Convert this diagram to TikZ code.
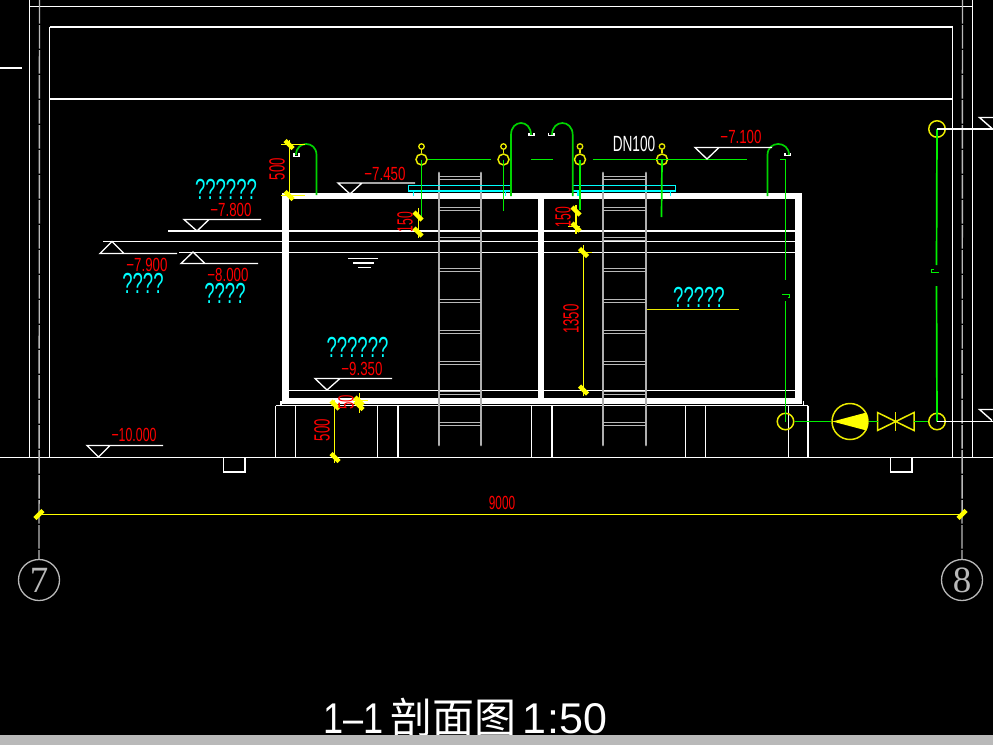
\documentclass[tikz,border=0pt]{standalone}
\usepackage{fontspec}
\setmainfont{Liberation Sans}
\newfontfamily\cjk{Noto Sans CJK SC}
\newfontfamily\axisfont{Liberation Serif}
\newcommand{\sqz}[2]{\scalebox{#1}[1]{#2}}
\definecolor{cadyel}{RGB}{255,255,0}
\definecolor{cadyd}{RGB}{235,235,0}
\definecolor{cadgrn}{RGB}{0,240,0}
\definecolor{cadgrh}{RGB}{0,210,0}
\definecolor{cadgry}{RGB}{185,185,185}
\definecolor{cadrail}{RGB}{175,175,175}
\definecolor{cadcyan}{RGB}{0,255,255}
\definecolor{cadred}{RGB}{255,0,0}
\tikzset{
 thin line/.style={draw=white,line width=1.4pt},
 wall/.style={fill=white,draw=none},
 pipe/.style={draw=cadgrn,line width=1.7pt},
 hook/.style={draw=cadgrh,line width=1.7pt},
 bracket/.style={draw=white,line width=1.2pt},
 axisline/.style={draw=cadgry,line width=1.4pt,dash pattern=on 23.5pt off 1.5pt},
 dimline/.style={draw=cadyel,line width=1.6pt},
 slash/.style={draw=cadyel,line width=4.5pt},
 bigc/.style={circle,draw=cadyd,line width=1.5pt,inner sep=0pt,minimum size=11pt},
 smallc/.style={circle,draw=cadyd,line width=1.3pt,inner sep=0pt,minimum size=5.5pt},
 endc/.style={circle,draw=cadyd,line width=1.5pt,inner sep=0pt,minimum size=16.5pt},
 rail/.style={draw=cadrail,line width=2.8pt,line cap=round},
 rung/.style={draw=cadgry,line width=1.3pt},
 plate/.style={draw=cadcyan,line width=1.5pt},
 lvl/.style={text=cadred,inner sep=0pt,font=\fontsize{19}{19}\selectfont},
 dimt/.style={text=cadred,inner sep=0pt,font=\fontsize{22}{22}\selectfont},
 cyant/.style={text=cadcyan,inner sep=0pt,font=\fontsize{29}{29}\selectfont},
 mark sym/.style={draw=white,line width=1.3pt},
 axisc/.style={circle,draw=cadgry,line width=1.3pt,inner sep=0pt,minimum size=41pt,text=cadgry,font=\axisfont\fontsize{37}{37}\selectfont},
}
\begin{document}
\begin{tikzpicture}[x=1pt,y=-1pt]
\useasboundingbox (0,0) rectangle (993,745);
\fill[black] (0,0) rectangle (993,745);

% building frame
\draw[thin line] (29.5,0) -- (29.5,457);
\draw[thin line] (49.5,27) -- (49.5,457);
\draw[thin line] (952.5,27) -- (952.5,457);
\draw[thin line] (972.5,0) -- (972.5,457);
\draw[thin line] (29.5,6.5) -- (972.5,6.5);
\draw[thin line] (49.5,27) -- (952.5,27);
\draw[thin line] (49.5,99) -- (952.5,99);
\draw[thin line] (0,68) -- (22,68);
\draw[thin line] (0,457.5) -- (993,457.5);
\draw[thin line] (223.5,457.5) -- (223.5,472) -- (245,472) -- (245,457.5);
\draw[thin line] (890.5,457.5) -- (890.5,472) -- (912,472) -- (912,457.5);
% axes
\node[axisc] (ax7) at (39,580) {7};
\node[axisc] (ax8) at (962,580) {8};
\coordinate (ax7t) at (39.5,0);
\coordinate (ax8t) at (962.5,0);
\draw[axisline] (ax7t) -- (ax7.north);
\draw[axisline] (ax8t) -- (ax8.north);

% water and floor lines
\draw[thin line] (168,231) -- (795,231);
\draw[thin line] (103,241.5) -- (795,241.5);
\draw[thin line] (179,252.5) -- (795,252.5);
\draw[thin line] (289,390.5) -- (795,390.5);
\draw[thin line] (348,258.5) -- (378,258.5);
\draw[thin line] (353,263) -- (374,263);
\draw[thin line] (358,267.5) -- (371,267.5);

% tank
\fill[wall] (282,193) rectangle (802,199);
\fill[wall] (282,193) rectangle (289,404);
\fill[wall] (795,193) rectangle (802,404);
\fill[wall] (538,193) rectangle (544,404);
\fill[wall] (282,398) rectangle (802,403.5);
% plinth
\draw[thin line] (281,405) -- (281,400.5);
\draw[thin line] (803.5,400.5) -- (803.5,405);
\draw[thin line] (275.5,405.5) -- (808,405.5);
\foreach \x in {275.5,295.5,377.5,398,531.5,552,685.5,705.5,788.5,808}
  \draw[thin line] (\x,405.5) -- (\x,457.5);

% ladders
\foreach \x/\y in {439/481,603/646}{
  \draw[rail] (\x,173) -- (\x,445);
  \draw[rail] (\y,173) -- (\y,445);
  \foreach \r in {178,209,239,270,301,332,363,393,424}{
    \draw[rung] (\x,\r-1.5) -- (\y,\r-1.5);
    \draw[rung] (\x,\r+1.5) -- (\y,\r+1.5);
  }
}

% cyan plates
\draw[plate] (408.5,185.5) rectangle (511.5,191);
\draw[plate] (413.5,191) -- (413.5,196);
\draw[plate] (505.5,191) -- (505.5,196);
\draw[plate] (572.5,185.5) rectangle (675.5,191);
\draw[plate] (578,191) -- (578,196);
\draw[plate] (670.5,191) -- (670.5,196);

% pipes with yellow fittings
\node[bigc] (p1) at (421.5,159.5) {};
\node[bigc] (p2) at (503.5,159.5) {};
\node[bigc] (p3) at (580,159.5) {};
\node[bigc] (p4) at (662,159.5) {};
\node[smallc] (s1) at (421.5,146.5) {};
\node[smallc] (s2) at (503.5,146.5) {};
\node[smallc] (s3) at (580,146.5) {};
\node[smallc] (s4) at (662,146.5) {};
\foreach \n in {1,2,3,4} \draw[draw=cadyd,line width=1.3pt] (p\n) -- (s\n);
\coordinate (e1) at (421.5,217); \coordinate (e2) at (503.5,211);
\coordinate (e3) at (580,210);  \coordinate (e4) at (661.5,217);
\foreach \n in {1,2,3,4} \draw[pipe] (p\n.center) -- (e\n);
\coordinate (h1) at (491,159.5); \draw[pipe] (p1) -- (h1);
\coordinate (h2a) at (531,159.5); \coordinate (h2b) at (553,159.5); \draw[pipe] (h2a) -- (h2b);
\coordinate (h3a) at (593,159.5); \coordinate (h3) at (747,159.5); \draw[pipe] (h3a) -- (h3);

% hooks
\draw[hook] (511,196) -- (511,135) .. controls (511,119) and (531,119) .. (531,135);
\draw[bracket] (529,133) -- (529,135.5) -- (534,135.5) -- (534,133);
\draw[hook] (572.7,196) -- (572.7,135) .. controls (572.7,119) and (552,119) .. (552,135);
\draw[bracket] (548.5,133) -- (548.5,135.5) -- (554,135.5) -- (554,133);
\draw[hook] (767.5,196) -- (767.5,155) .. controls (767.5,140.3) and (789,140.3) .. (789,155);
\draw[bracket] (785,153) -- (785,155.5) -- (790.5,155.5) -- (790.5,153);
\draw[hook] (316.5,195) -- (316.5,155) .. controls (316.5,140.3) and (296,140.3) .. (296,155);
\draw[bracket] (294,153) -- (294,156.5) -- (299,156.5) -- (299,153);

% right pump line
\node[endc] (q1) at (785.5,421.5) {};
\node[endc] (q2) at (937,421.5) {};
\node[endc] (q3) at (937,129) {};
\node[circle,draw=cadyd,line width=1.5pt,inner sep=0pt,minimum size=36pt] (pump) at (850,421.5) {};
\fill[cadyel] (832.5,421.5) -- (866.5,412.5) .. controls (868.5,418) and (868.5,425) .. (866.5,430.5) -- cycle;
\coordinate (v1) at (877.5,421.5); \coordinate (v2) at (914,421.5);
\draw[draw=cadyd,line width=1.5pt] (877.5,412.5) -- (914,430.5) -- (914,412.5) -- (877.5,430.5) -- cycle;
\draw[draw=cadyd,line width=1.5pt] (895.5,412) -- (895.5,431);
\draw[pipe] (q1) -- (pump);
\draw[pipe] (pump) -- (v1);
\draw[pipe] (v2) -- (q2);
\coordinate (r1) at (780,159.5); \coordinate (r2) at (785.5,159.5);
\coordinate (r3) at (785.5,280); \coordinate (r4) at (785.5,301);
\draw[pipe] (r1) -- (r2) -- (r3);
\draw[pipe] (r4) -- (q1.center);
\draw[pipe] (782,294.5) -- (789.5,294.5) -- (789.5,297.5) -- (787.5,297.5);
\coordinate (t1) at (936.5,265); \coordinate (t2) at (936.5,286);
\draw[pipe] (q3.center) -- (t1);
\draw[pipe] (t2) -- (q2.center);
\draw[pipe] (938.5,272.5) -- (931.5,272.5) -- (931.5,269.5) -- (933.5,269.5);
\draw[thin line] (q3.center) -- (993,129);
\draw[thin line] (q2.center) -- (993,421.5);
\draw[thin line] (993,117.5) -- (979.5,117.5) -- (992,128.5);
\draw[thin line] (993,409.5) -- (979.5,409.5) -- (992,420.5);

% level symbols
\draw[mark sym] (338,183) -- (350,194) -- (362,183) -- cycle (362,183) -- (415,183);
\draw[mark sym] (184,219.5) -- (197,231) -- (209,219.5) -- cycle (209,219.5) -- (261,219.5);
\draw[mark sym] (100,253.5) -- (112,241.5) -- (124,253.5) -- cycle (124,253.5) -- (177,253.5);
\draw[mark sym] (181,263.5) -- (193,252) -- (205,263.5) -- cycle (205,263.5) -- (258,263.5);
\draw[mark sym] (315,378.5) -- (327,390) -- (340,378.5) -- cycle (340,378.5) -- (392,378.5);
\draw[mark sym] (87,445.5) -- (98.5,457) -- (110,445.5) -- cycle (110,445.5) -- (163,445.5);
\draw[mark sym] (695,147.5) -- (707,159) -- (719,147.5) -- cycle (719,147.5) -- (772,147.5);

\node[lvl] (l1) at (385,174) {\sqz{.7}{−7.450}};
\node[lvl] (l2) at (231,209.5) {\sqz{.7}{−7.800}};
\node[lvl] (l3) at (147,264.5) {\sqz{.7}{−7.900}};
\node[lvl] (l4) at (228,274.5) {\sqz{.7}{−8.000}};
\node[lvl] (l5) at (362,368.5) {\sqz{.7}{−9.350}};
\node[lvl] (l6) at (134,435) {\sqz{.65}{−10.000}};
\node[lvl] (l7) at (741,137) {\sqz{.7}{−7.100}};
\node[inner sep=0pt,text=white,font=\fontsize{22}{22}\selectfont] (dn) at (634,144) {\sqz{.62}{DN100}};

% cyan labels
\node[cyant] (c1) at (226,189) {\sqz{.64}{??????}};
\node[cyant] (c2) at (143,283) {\sqz{.64}{????}};
\node[cyant] (c3) at (225,293) {\sqz{.64}{????}};
\node[cyant] (c4) at (357.5,347) {\sqz{.64}{??????}};
\node[cyant] (c5) at (699,297) {\sqz{.64}{?????}};
\draw[draw=cadyd,line width=1.4pt] (647,309.5) -- (739,309.5);

% dimensions
\draw[dimline] (289.5,140) -- (289.5,199);
\draw[dimline] (281,144.5) -- (305,144.5);
\draw[dimline] (281,195.5) -- (305,195.5);
\draw[slash] (285,140.5) -- (293,148.5);
\draw[slash] (285,191.5) -- (293,199.5);
\node[dimt,rotate=90] (d1) at (277,169) {\sqz{.6}{500}};

\draw[dimline] (418.5,208) -- (418.5,238);
\draw[slash] (414,212) -- (422,220);
\draw[slash] (414,228) -- (422,236);
\node[dimt,rotate=90] (d2) at (405,222) {\sqz{.55}{150}};

\draw[dimline] (576,205) -- (576,234);
\draw[dimline] (568,226.5) -- (580,226.5);
\draw[slash] (572,207) -- (580,215);
\draw[slash] (572,223) -- (580,231);
\node[dimt,rotate=90] (d3) at (563,217) {\sqz{.55}{150}};

\draw[dimline] (583.5,245) -- (583.5,396);
\draw[dimline] (578,252.5) -- (592,252.5);
\draw[slash] (579.5,248.5) -- (587.5,256.5);
\draw[slash] (579.5,386) -- (587.5,394);
\node[dimt,rotate=90] (d4) at (571,319) {\sqz{.6}{1350}};

\draw[dimline] (334.5,400) -- (334.5,463);
\draw[slash] (331,401) -- (339,409);
\draw[slash] (331,453.5) -- (339,461.5);
\node[dimt,rotate=90] (d5) at (322,430) {\sqz{.6}{500}};

\draw[dimline] (359.5,393) -- (359.5,413);
\draw[dimline] (353,400.5) -- (368,400.5);
\draw[slash] (355,397) -- (363,405);
\draw[slash] (355,401.5) -- (363,409.5);
\node[dimt,rotate=90] (d6) at (346,402.5) {\sqz{.6}{50}};

\coordinate (dl) at (39.5,514.5); \coordinate (dr) at (962.5,514.5);
\draw[dimline] (dl) -- (dr);
\draw[slash] (35,518.5) -- (43,510.5);
\draw[slash] (958,518.5) -- (966,510.5);
\node[lvl] (d7) at (502,502.5) {\sqz{.62}{9000}};

% title
\node[anchor=west,inner sep=0pt,text=white,font=\fontsize{43}{43}\selectfont] (title) at (323,717)
  {\sqz{.84}{1–1}\hspace{7pt}{\cjk\fontsize{42}{42}\selectfont 剖面图}\hspace{6pt}1\hspace{1pt}:\hspace{0pt}50};
\fill[cadgry] (0,735) rectangle (993,745);
\end{tikzpicture}
\end{document}
